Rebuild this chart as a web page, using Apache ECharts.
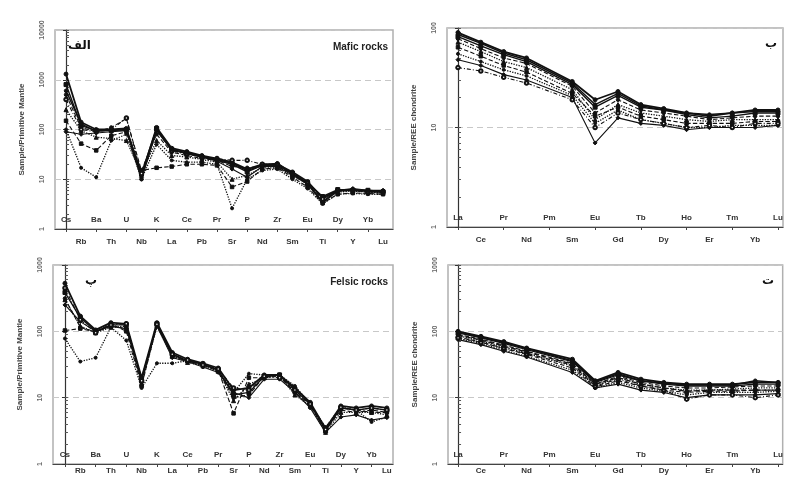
<!DOCTYPE html>
<html>
<head>
<meta charset="utf-8">
<title>Spider diagrams</title>
<script src="https://cdn.jsdelivr.net/npm/echarts@6/dist/echarts.min.js"></script>
<style>
  html, body { margin: 0; padding: 0; background: #fff; }
  #chart { width: 786px; height: 481px; }
</style>
</head>
<body>
<div id="chart"></div>
<script>
// Element order on the x axes
const spiderElements = ['Cs','Rb','Ba','Th','U','Nb','K','La','Ce','Pb','Pr','Sr','P','Nd','Zr','Sm','Eu','Ti','Dy','Y','Yb','Lu'];
const reeElements = ['La','Ce','Pr','Nd','Pm','Sm','Eu','Gd','Tb','Dy','Ho','Er','Tm','Yb','Lu'];

// Mafic rocks, primitive-mantle normalised (one row per sample)
const maficPM = [
  [1300,140,100,100,105,12,110,42,36,30,26,22,16,20,20,14,9.0,4.2,6.0,6.2,5.8,5.8],
  [800,120,95,95,100,13,105,40,33,28,24,20,14,19,19,13,8.5,4.5,6.2,6.0,6.0,5.6],
  [500,110,90,110,165,15,80,35,30,26,24,18,17,18,18,13,8.0,4.0,5.8,6.0,5.5,5.5],
  [250,95,70,66,60,13,60,30,28,25,22,10,12,17,17,12,8.0,3.8,5.5,5.8,5.5,5.4],
  [150,52,38,75,90,15,17,18,20,20,19,7,9,16,17,11,7.0,3.3,5.0,5.3,5.2,5.0],
  [100,17,11,60,80,10,50,24,22,22,20,2.6,10,15,16,10,6.5,3.2,5.0,5.2,5.0,5.0],
  [90,80,85,90,95,11,95,38,33,28,23,16,11,18,18,12,8.0,3.6,6.0,6.5,6.0,6.0],
  [400,100,90,100,170,13,100,37,32,28,26,24,24,20,20,13,8.5,4.0,6.0,6.0,5.5,5.5],
  [600,130,92,98,98,10,100,39,34,29,25,21,15,19,21,13,8.0,3.4,5.8,6.0,5.8,5.6]
];

// Mafic rocks, chondrite normalised (Pm not analysed)
const maficREE = [
  [90,72,58,50,null,29,19,23,17,15.5,14,13,14,15,15],
  [82,66,54,46,null,27,16,21,16,15,13.5,12.5,13,14,14],
  [78,62,50,44,null,26,14,19,15,14,13,12,12.5,13,13],
  [72,58,46,40,null,24,12,17,14,13,12,11.5,12,12,12],
  [64,52,42,36,null,22,13,16,13,12,11,11,11,11.5,11.5],
  [55,46,38,33,null,21,11,15,12,11,10,10,10.5,10.5,10.5],
  [48,42,34,30,null,20,7,12.5,11,10.5,9.5,10,10,10,10.5],
  [40,37,32,28,null,19,10,14,12,11,10,10.5,10,11,11],
  [86,70,56,48,null,28,17,22,16.5,15,14,13.5,14,14.5,14.5]
];

// Felsic rocks, primitive-mantle normalised
const felsicPM = [
  [530,170,105,135,130,20,135,48,38,33,28,13,14,22,22,14,8.5,3.4,7.5,7.0,7.5,7.0],
  [385,160,100,125,125,18,130,45,36,32,26,11,12,21,22,13,8.0,3.2,7.0,6.5,7.0,6.5],
  [313,115,98,120,110,17,125,43,35,31,25,10,11,21,21,12,7.5,3.2,6.5,6.0,6.5,6.0],
  [300,120,95,115,120,16,120,42,34,30,25,9,16,20,21,11,7.5,3.0,6.0,6.0,6.0,5.5],
  [103,110,98,130,100,15,125,44,36,32,26,5.8,20,20,22,12,8.0,3.5,7.0,6.5,6.0,6.0],
  [78,35,40,115,73,14,33,33,36,31,27,12,23,22,22,15,8.0,3.6,7.2,6.5,4.3,5.1],
  [250,140,100,118,110,20,120,40,35,29,24,12,10,19,19,12,7.0,3.0,5.1,5.5,4.6,5.0],
  [450,150,95,125,130,18,128,45,37,31,27,14,13,21,20,13,8.0,3.3,7.2,6.5,7.0,6.5]
];

// Felsic rocks, chondrite normalised (Pm not analysed)
const felsicREE = [
  [100,84,70,56,null,38,18,24,19,17,16,16,16,17,17],
  [95,80,66,53,null,35,17,22,18,16,15,15,15,16,16],
  [90,76,62,50,null,33,16,21,17,15,14,14,14.5,15,15],
  [86,72,58,47,null,30,15,20,16,14,13,13,13.5,14,14],
  [82,69,55,45,null,28,14.5,18,15,13,12,12.5,12.5,13,13],
  [78,66,52,42,null,26,14,17,14,12.5,11,12,12,12,12.5],
  [75,63,50,41,null,24,14,16,13,12,10,11,11,11,11.5],
  [80,68,56,46,null,31,15,19,15,13,9.5,11,11,10,11],
  [98,82,68,55,null,36,17.5,23,18,16.5,15.5,15.5,15.5,18,17],
  [88,74,60,49,null,32,16,20,16,14,12.5,13,13,13,13]
];

// Panel letters and captions
const panelLetters = ['الف', 'ب', 'پ', 'ت'];
const panelCaptions = ['Mafic rocks', '', 'Felsic rocks', ''];
const yTitles = ['Sample/Primitive Mantle', 'Sample/REE chondrite', 'Sample/Primitive Mantle', 'Sample/REE chondrite'];

// Layout of the four plots
const panels = [
  { names: spiderElements, samples: maficPM,   rect: { left: 55,  top: 30,  width: 338, height: 199 }, xMin: -0.73, xMax: 21.66, yMin: 1, yMax: 10000, lowMargin: 9, letterX: 13 },
  { names: reeElements,    samples: maficREE,  rect: { left: 447, top: 28,  width: 336, height: 199 }, xMin: -0.48, xMax: 14.22, yMin: 1, yMax: 100,   lowMargin: 9, letterX: 318 },
  { names: spiderElements, samples: felsicPM,  rect: { left: 53,  top: 265, width: 340, height: 199 }, xMin: -0.78, xMax: 21.4,  yMin: 1, yMax: 1000,  lowMargin: 3, letterX: 32 },
  { names: reeElements,    samples: felsicREE, rect: { left: 448, top: 265, width: 335, height: 199 }, xMin: -0.44, xMax: 14.2,  yMin: 1, yMax: 1000,  lowMargin: 3, letterX: 314 }
];

// Line and marker styles cycled over samples
const styles = [
  { type: 'solid',  width: 1.8, symbol: 'circle',      size: 4 },
  { type: 'solid',  width: 1.4, symbol: 'rect',        size: 4 },
  { type: 'dashed', width: 1.1, symbol: 'circle',      size: 3.5 },
  { type: 'dotted', width: 1.3, symbol: 'triangle',    size: 4 },
  { type: 'dashed', width: 1.1, symbol: 'rect',        size: 3.5 },
  { type: 'dotted', width: 1.3, symbol: 'circle',      size: 3 },
  { type: 'solid',  width: 1.1, symbol: 'diamond',     size: 4 },
  { type: [4, 2, 1, 2], width: 1.1, symbol: 'emptyCircle', size: 3.5 },
  { type: 'solid',  width: 1.5, symbol: 'circle',      size: 3.5 },
  { type: 'dashed', width: 1.3, symbol: 'triangle',    size: 3.5 }
];

function minorTicks(lo, hi) {
  const out = [];
  for (let d = lo; d < hi; d *= 10) {
    for (let m = 1; m <= 9; m++) out.push(m * d);
  }
  out.push(hi);
  return out;
}

const grids = [], xAxes = [], yAxes = [], series = [], titles = [];

panels.forEach((p, k) => {
  grids.push(Object.assign({ show: true, borderColor: '#b0b0b0', borderWidth: 1.5, backgroundColor: '#fff' }, p.rect));

  const idx = p.names.map((_, i) => i);
  const upper = idx.filter(i => i % 2 === 0);
  const lower = idx.filter(i => i % 2 === 1);
  const fmt = v => p.names[Math.round(v)] || '';

  // first row of element names, inside the plot
  xAxes.push({
    type: 'value', gridIndex: k, min: p.xMin, max: p.xMax, position: 'bottom',
    axisLine: { show: true, onZero: false, lineStyle: { color: '#444', width: 1 } },
    axisTick: { show: true, customValues: upper, length: 3, lineStyle: { color: '#444' } },
    axisLabel: { inside: true, customValues: upper, formatter: fmt, margin: 5,
                 fontSize: 8, fontWeight: 'bold', color: '#333', fontFamily: 'Liberation Sans' },
    splitLine: { show: false }
  });
  // second row, below the axis
  xAxes.push({
    type: 'value', gridIndex: k, min: p.xMin, max: p.xMax, position: 'bottom',
    axisLine: { show: false }, axisTick: { show: false },
    axisLabel: { customValues: lower, formatter: fmt, margin: p.lowMargin,
                 fontSize: 8, fontWeight: 'bold', color: '#333', fontFamily: 'Liberation Sans' },
    splitLine: { show: false }
  });

  yAxes.push({
    type: 'log', logBase: 10, gridIndex: k, min: p.yMin, max: p.yMax, position: 'left',
    name: yTitles[k], nameLocation: 'middle', nameGap: 29,
    nameTextStyle: { fontSize: 8, color: '#444', fontFamily: 'Liberation Sans', fontWeight: 'bold' },
    axisLine: { show: true, lineStyle: { color: '#333', width: 1.2 } },
    axisTick: { show: true, length: 3, lineStyle: { color: '#333' } },
    axisLabel: { rotate: 90, margin: 9, fontSize: 7, color: '#666', fontFamily: 'Liberation Sans', fontWeight: 'bold',
                 formatter: v => String(Math.round(v)) },
    splitLine: { show: true, lineStyle: { color: '#c8c8c8', type: [6, 4], width: 1 } }
  });
  // minor log ticks drawn on the inner side
  yAxes.push({
    type: 'log', logBase: 10, gridIndex: k, min: p.yMin, max: p.yMax, position: 'left',
    axisLine: { show: false },
    axisTick: { show: true, inside: true, length: 3, customValues: minorTicks(p.yMin, p.yMax), lineStyle: { color: '#555' } },
    axisLabel: { show: false }, splitLine: { show: false }
  });

  p.samples.forEach((vals, s) => {
    const st = styles[s % styles.length];
    series.push({
      type: 'line', xAxisIndex: 2 * k, yAxisIndex: 2 * k,
      data: vals.map((v, i) => [i, v]).filter(d => d[1] != null),
      symbol: st.symbol, symbolSize: st.size, showSymbol: true,
      lineStyle: { color: '#111', width: st.width, type: st.type },
      itemStyle: { color: '#111', borderColor: '#111' },
      silent: true, z: 3
    });
  });

  // panel letter
  const r = p.rect;
  titles.push({
    text: panelLetters[k],
    left: r.left + p.letterX,
    top: r.top + 10,
    textStyle: { fontSize: 12, fontWeight: 'bold', color: '#111', fontFamily: 'DejaVu Sans' },
    padding: 0
  });
  if (panelCaptions[k]) {
    titles.push({
      text: panelCaptions[k],
      right: 786 - (r.left + r.width) + 5,
      top: r.top + 12,
      textStyle: { fontSize: 10, fontWeight: 'bold', color: '#222', fontFamily: 'Liberation Sans' },
      padding: 0
    });
  }
});

const chart = echarts.init(document.getElementById('chart'), null, { renderer: 'canvas' });
chart.setOption({
  animation: false,
  backgroundColor: '#fff',
  title: titles,
  grid: grids,
  xAxis: xAxes,
  yAxis: yAxes,
  series: series
});
</script>
</body>
</html>
